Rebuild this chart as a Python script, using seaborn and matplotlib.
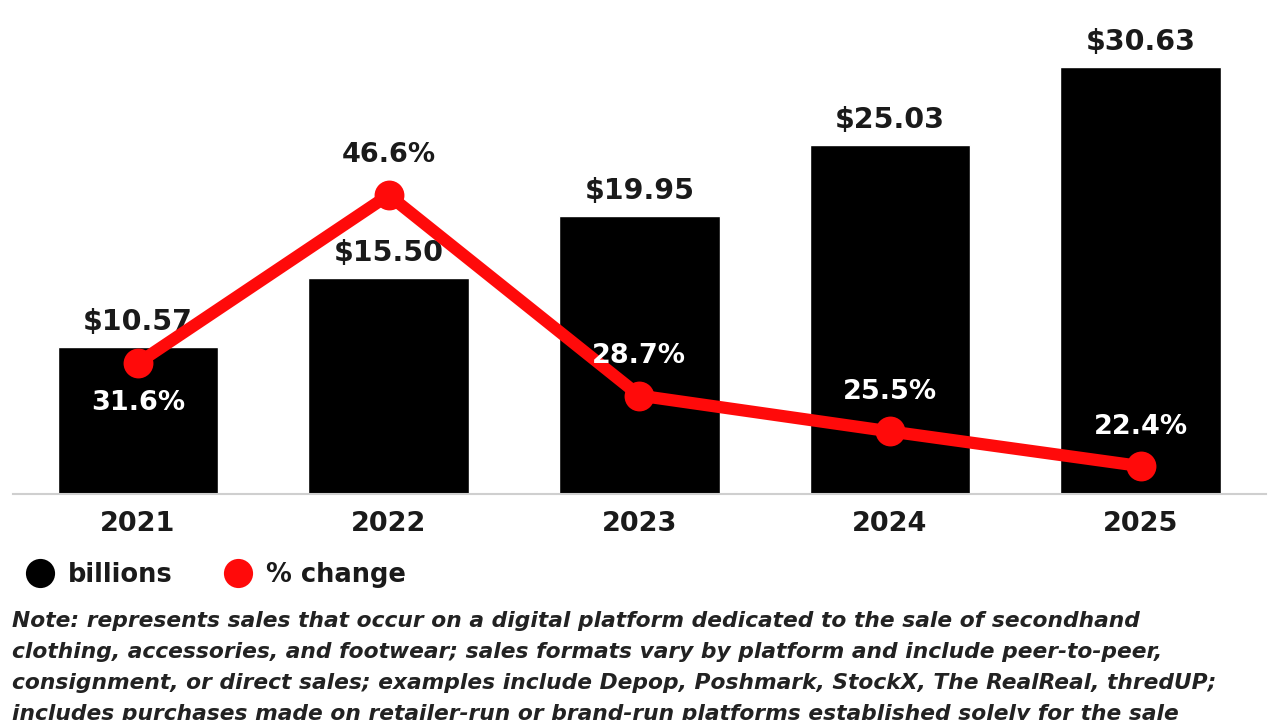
import matplotlib
matplotlib.use("Agg")
import matplotlib.pyplot as plt
import seaborn as sns
import numpy as np
import pandas as pd
from matplotlib.lines import Line2D

# ---- data ----
years = ["2021", "2022", "2023", "2024", "2025"]
sales = [10.57, 15.50, 19.95, 25.03, 30.63]
sales_labels = ["$10.57", "$15.50", "$19.95", "$25.03", "$30.63"]
pct = [31.6, 46.6, 28.7, 25.5, 22.4]
pct_labels = ["31.6%", "46.6%", "28.7%", "25.5%", "22.4%"]
pct_label_above = [False, True, True, True, True]
pct_label_colors = ["white", "#1a1a1a", "white", "white", "white"]
legend_labels = ["billions", "% change"]
note_lines = [
    "Note: represents sales that occur on a digital platform dedicated to the sale of secondhand",
    "clothing, accessories, and footwear; sales formats vary by platform and include peer-to-peer,",
    "consignment, or direct sales; examples include Depop, Poshmark, StockX, The RealReal, thredUP;",
    "includes purchases made on retailer-run or brand-run platforms established solely for the sale",
]

RED = "#ff0a0a"
TXT = "#1a1a1a"

sns.set_theme(style="white")
plt.rcParams["font.family"] = ["DejaVu Sans"]

W, H = 1279, 720
fig = plt.figure(figsize=(W / 100, H / 100), dpi=100)
fig.patch.set_facecolor("white")

ax_left, ax_right, ax_bottom, ax_top = 12.6, 1266.0, 494.0, 30.0
ax = fig.add_axes([ax_left / W, (H - ax_bottom) / H,
                   (ax_right - ax_left) / W, (ax_bottom - ax_top) / H])

df = pd.DataFrame({"year": years, "sales": sales, "pct": pct})
sns.barplot(data=df, x="year", y="sales", color="black", saturation=1,
            width=0.64, ax=ax, zorder=2)
ax.set_xlim(-0.5, 4.5)
ax.set_ylim(0, (ax_bottom - ax_top) / 13.95)

ax2 = ax.twinx()
sns.lineplot(x=np.arange(len(years)), y=pct, ax=ax2, color=RED,
             linewidth=8.8, marker="o", markersize=21.5, markeredgewidth=0,
             zorder=3)
ax2.set_xlim(-0.5, 4.5)
ax2.set_ylim((717 - ax_bottom) / 11.2, (717 - ax_top) / 11.2)

for i, (v, lab) in enumerate(zip(sales, sales_labels)):
    ax.annotate(lab, (i, v), xytext=(0, 18), textcoords="offset points",
                ha="center", va="center", fontsize=20.5, fontweight="bold",
                color=TXT, zorder=1)

for i, (v, lab, above, c) in enumerate(zip(pct, pct_labels, pct_label_above, pct_label_colors)):
    ax2.annotate(lab, (i, v), xytext=(0, 28.5 if above else -28.5),
                 textcoords="offset points", ha="center", va="center",
                 fontsize=19.5, fontweight="bold", color=c, zorder=5)

for a in (ax, ax2):
    a.set_yticks([])
    a.set_ylabel("")
    a.set_xlabel("")
    for s in ("top", "left", "right"):
        a.spines[s].set_visible(False)
ax2.spines["bottom"].set_visible(False)
ax.spines["bottom"].set_color("#cfcfcf")
ax.spines["bottom"].set_linewidth(1.5)
ax.tick_params(axis="x", length=0, pad=12, labelsize=19.5, labelcolor=TXT)
for t in ax.get_xticklabels():
    t.set_fontweight("bold")

handles = [Line2D([], [], marker="o", color="black", ls="", markersize=21, markeredgewidth=0),
           Line2D([], [], marker="o", color=RED, ls="", markersize=21, markeredgewidth=0)]
fig.legend(handles=handles, labels=legend_labels, loc="center left",
           bbox_to_anchor=(25 / W, 1 - 575 / H), ncol=2, frameon=False,
           prop={"size": 18.5, "weight": "bold"}, labelcolor=TXT,
           handlelength=1.2, handletextpad=0.47, columnspacing=1.95,
           borderpad=0, borderaxespad=0)

for k, line in enumerate(note_lines):
    fig.text(12 / W, 1 - (621 + 31 * k) / H, line, ha="left", va="center",
             fontsize=15.7, fontstyle="italic", fontweight="bold", color="#222222")

fig.savefig("out.png", dpi=100, facecolor="white")
